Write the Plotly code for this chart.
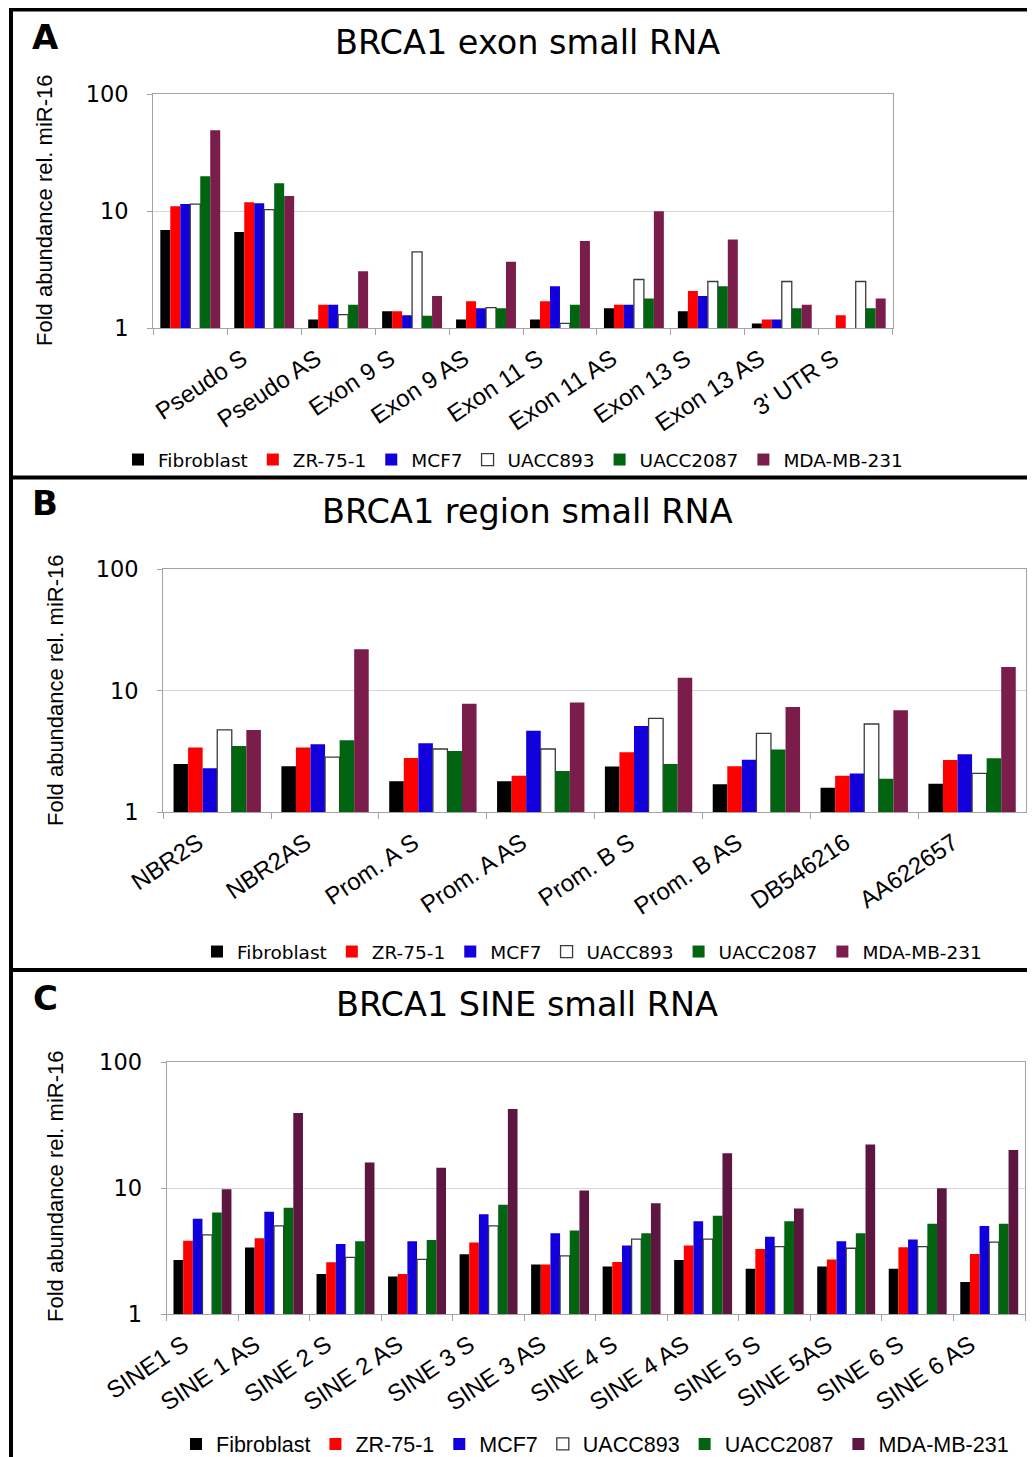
import plotly.graph_objects as go

W, H = 1035, 1457
OFF = 8  # page body margin of the html page

# ---------------- data ----------------
series_names = ["Fibroblast", "ZR-75-1", "MCF7", "UACC893", "UACC2087", "MDA-MB-231"]

exon_categories = ["Pseudo S", "Pseudo AS", "Exon 9 S", "Exon 9 AS", "Exon 11 S",
                   "Exon 11 AS", "Exon 13 S", "Exon 13 AS", "3' UTR S", " "]
exon_fibroblast = [6.9, 6.65, 1.19, 1.40, 1.19, 1.19, 1.48, 1.40, 1.10, None]
exon_zr751 = [11.0, 11.9, 1.59, 1.40, 1.70, 1.70, 1.59, 2.08, 1.19, 1.29]
exon_mcf7 = [11.5, 11.7, 1.59, 1.29, 1.48, 2.29, 1.59, 1.89, 1.19, None]
exon_uacc893 = [11.5, 10.3, 1.31, 4.49, 1.50, 1.10, 2.61, 2.51, 2.51, 2.51]
exon_uacc2087 = [19.9, 17.3, 1.59, 1.28, 1.48, 1.59, 1.80, 2.29, 1.48, 1.48]
exon_mdamb231 = [49.0, 13.5, 3.07, 1.89, 3.69, 5.57, 10.0, 5.73, 1.59, 1.80]

region_categories = ["NBR2S", "NBR2AS", "Prom. A S", "Prom. A AS", "Prom. B S",
                     "Prom. B AS", "DB546216", "AA622657"]
region_fibroblast = [2.50, 2.39, 1.80, 1.80, 2.38, 1.70, 1.59, 1.72]
region_zr751 = [3.41, 3.41, 2.80, 2.00, 3.12, 2.39, 2.00, 2.70]
region_mcf7 = [2.30, 3.63, 3.70, 4.70, 5.14, 2.71, 2.09, 3.00]
region_uacc893 = [4.76, 2.85, 3.32, 3.32, 5.94, 4.47, 5.33, 2.09]
region_uacc2087 = [3.52, 3.91, 3.20, 2.19, 2.50, 3.28, 1.89, 2.78]
region_mdamb231 = [4.76, 21.97, 7.84, 8.0, 12.8, 7.36, 6.91, 15.7]

sine_categories = ["SINE1 S", "SINE 1 AS", "SINE 2 S", "SINE 2 AS", "SINE 3 S", "SINE 3 AS",
                   "SINE 4 S", "SINE 4 AS", "SINE 5 S", "SINE 5AS", "SINE 6 S", "SINE 6 AS"]
sine_fibroblast = [2.70, 3.38, 2.09, 1.99, 2.99, 2.48, 2.39, 2.70, 2.30, 2.39, 2.30, 1.80]
sine_zr751 = [3.82, 4.01, 2.59, 2.09, 3.70, 2.48, 2.60, 3.51, 3.30, 2.72, 3.40, 3.01]
sine_mcf7 = [5.71, 6.49, 3.61, 3.80, 6.22, 4.39, 3.51, 5.47, 4.11, 3.80, 3.91, 5.02]
sine_uacc893 = [4.26, 5.02, 2.83, 2.73, 5.02, 2.90, 3.94, 3.94, 3.44, 3.34, 3.44, 3.73]
sine_uacc2087 = [6.41, 6.98, 3.80, 3.89, 7.38, 4.61, 4.39, 6.03, 5.47, 4.39, 5.21, 5.21]
sine_mdamb231 = [9.82, 39.4, 16.0, 14.5, 42.4, 9.58, 7.60, 18.9, 6.90, 22.2, 10.0, 20.1]

panel_titles = ["BRCA1 exon small RNA", "BRCA1 region small RNA", "BRCA1 SINE small RNA"]
panel_letters = ["A", "B", "C"]
y_title = "Fold abundance rel. miR-16"
y_tickvals = [1, 10, 100]
y_ticktext = ["1", "10", "100"]

# ---------------- styling ----------------
colors_ab = ["#000000", "#ff0000", "#1200dc", "#ffffff", "#006410", "#7a1d4b"]
colors_c = ["#000000", "#ff0000", "#1200dc", "#ffffff", "#006410", "#5c163f"]


def px_x(x):
    return (x - OFF) / W


def px_y(y):
    return 1 - (y - OFF) / H


panels = [
    dict(cats=exon_categories,
         vals=[exon_fibroblast, exon_zr751, exon_mcf7, exon_uacc893, exon_uacc2087, exon_mdamb231],
         colors=colors_ab, x0=153.3, x1=892.7, y0=94, y1=328.3, shift=52,
         legend=dict(x=513, y=460, family="DejaVu Sans", size=18.5)),
    dict(cats=region_categories,
         vals=[region_fibroblast, region_zr751, region_mcf7, region_uacc893, region_uacc2087, region_mdamb231],
         colors=colors_ab, x0=163.3, x1=1026, y0=569.3, y1=812.3, shift=-19,
         legend=dict(x=592, y=952, family="DejaVu Sans", size=18.5)),
    dict(cats=sine_categories,
         vals=[sine_fibroblast, sine_zr751, sine_mcf7, sine_uacc893, sine_uacc2087, sine_mdamb231],
         colors=colors_c, x0=166.7, x1=1025, y0=1062, y1=1314.3, shift=-19,
         legend=dict(x=595, y=1444, family="Liberation Sans", size=21.5)),
]

fig = go.Figure()
layout = dict(
    width=W, height=H,
    margin=dict(l=0, r=0, t=0, b=0),
    paper_bgcolor="white", plot_bgcolor="white",
    template="none",
    barmode="group", bargap=0.19, bargroupgap=0.0,
    showlegend=True,
)

axis_line = "#a2a2a2"
for i, p in enumerate(panels):
    sfx = "" if i == 0 else str(i + 1)
    leg = "legend" if i == 0 else f"legend{i + 1}"
    for name, vals, col in zip(series_names, p["vals"], p["colors"]):
        is_white = col.lower() == "#ffffff"
        fig.add_trace(go.Bar(
            x=p["cats"], y=vals, name=name,
            marker=dict(color=col,
                        line=dict(color="#3a3a3a" if is_white else col,
                                  width=1.3 if is_white else 0)),
            xaxis="x" + sfx, yaxis="y" + sfx, legend=leg,
        ))
    layout["xaxis" + sfx] = dict(
        domain=[px_x(p["x0"]), px_x(p["x1"])], anchor="y" + sfx,
        type="category", categoryorder="array", categoryarray=p["cats"],
        tickson="boundaries", ticks="outside", ticklen=6, tickcolor=axis_line,
        showline=True, mirror=True, linecolor=axis_line, linewidth=1.3,
        showgrid=False, zeroline=False, automargin=False,
        tickangle=-34, ticklabelshift=p["shift"], ticklabelstandoff=6,
        tickfont=dict(family="Liberation Sans", size=24, color="black"),
    )
    layout["yaxis" + sfx] = dict(
        domain=[px_y(p["y1"]), px_y(p["y0"])], anchor="x" + sfx,
        type="log", range=[0, 2], tickvals=y_tickvals, ticktext=y_ticktext,
        ticks="outside", ticklen=5, tickcolor=axis_line,
        showline=True, mirror=True, linecolor=axis_line, linewidth=1.3,
        showgrid=True, gridcolor="#d6d6d6", gridwidth=1.2, zeroline=False,
        automargin=False, ticklabelstandoff=14,
        tickfont=dict(family="DejaVu Sans", size=22.5, color="black"),
    )
    lg = p["legend"]
    layout[leg] = dict(
        orientation="h", x=px_x(lg["x"]), y=px_y(lg["y"]),
        xanchor="center", yanchor="middle",
        font=dict(family=lg["family"], size=lg["size"], color="black"),
        bgcolor="rgba(0,0,0,0)", traceorder="normal",
    )

annotations = []
title_pos = [(527, 42), (527, 512), (527, 1004)]
letter_pos = [(45, 37), (45, 503), (45, 998)]
ytitle_pos = [(45, 211), (55, 691), (55, 1187)]
for i in range(3):
    annotations.append(dict(text=panel_titles[i], x=px_x(title_pos[i][0]), y=px_y(title_pos[i][1]),
                            xref="paper", yref="paper", showarrow=False,
                            xanchor="center", yanchor="middle",
                            font=dict(family="DejaVu Sans", size=33.5, color="black")))
    annotations.append(dict(text="<b>" + panel_letters[i] + "</b>", x=px_x(letter_pos[i][0]),
                            y=px_y(letter_pos[i][1]), xref="paper", yref="paper", showarrow=False,
                            xanchor="center", yanchor="middle",
                            font=dict(family="DejaVu Sans", size=34, color="black")))
    annotations.append(dict(text=y_title, x=px_x(ytitle_pos[i][0]), y=px_y(ytitle_pos[i][1]),
                            xref="paper", yref="paper", showarrow=False, textangle=-90,
                            xanchor="center", yanchor="middle",
                            font=dict(family="Liberation Sans", size=22, color="black")))
layout["annotations"] = annotations

border = dict(color="black", width=4)
layout["shapes"] = [
    dict(type="line", xref="paper", yref="paper", x0=px_x(9), x1=1, y0=px_y(9.5), y1=px_y(9.5), line=border),
    dict(type="line", xref="paper", yref="paper", x0=px_x(11), x1=px_x(11), y0=px_y(7.5), y1=0, line=border),
    dict(type="line", xref="paper", yref="paper", x0=px_x(9), x1=1, y0=px_y(477.5), y1=px_y(477.5), line=border),
    dict(type="line", xref="paper", yref="paper", x0=px_x(9), x1=1, y0=px_y(970), y1=px_y(970), line=border),
]

fig.update_layout(**layout)
fig.write_html("out.html")
